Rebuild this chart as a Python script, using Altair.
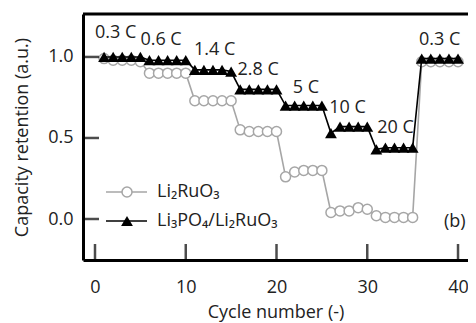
import altair as alt
import pandas as pd

cycles = list(range(1, 41))
li2ruo3 = [0.99, 0.98, 0.98, 0.98, 0.97,
           0.90, 0.90, 0.90, 0.90, 0.90,
           0.73, 0.73, 0.73, 0.73, 0.73,
           0.55, 0.54, 0.54, 0.54, 0.54,
           0.26, 0.29, 0.30, 0.30, 0.30,
           0.04, 0.05, 0.05, 0.07, 0.06,
           0.02, 0.01, 0.01, 0.01, 0.01,
           0.97, 0.97, 0.97, 0.97, 0.97]
li3po4 = [1.00, 1.00, 1.00, 1.00, 1.00,
          0.98, 0.98, 0.98, 0.98, 0.98,
          0.92, 0.92, 0.92, 0.92, 0.91,
          0.80, 0.80, 0.80, 0.80, 0.80,
          0.70, 0.70, 0.70, 0.70, 0.70,
          0.53, 0.57, 0.57, 0.57, 0.57,
          0.43, 0.44, 0.44, 0.44, 0.44,
          0.99, 0.99, 0.99, 0.99, 0.99]

rate_labels = ["0.3 C", "0.6 C", "1.4 C", "2.8 C", "5 C", "10 C", "20 C", "0.3 C"]
rate_x = [0.0, 5.0, 10.9, 15.7, 21.8, 25.8, 31.1, 35.7]
rate_y = [1.15, 1.105, 1.04, 0.92, 0.81, 0.685, 0.56, 1.105]

x_ticks = [0, 10, 20, 30, 40]
y_ticks = [0.0, 0.5, 1.0]

FONT = "Open Sans"
FS = 18
W, H = 385, 246

df = pd.DataFrame({"cycle": cycles, "a": li2ruo3, "b": li3po4})
lab = pd.DataFrame({"t": rate_labels, "x": rate_x, "y": rate_y})
one = pd.DataFrame({"k": [0]})

xs = alt.Scale(domain=[-1.322, 41.1], nice=False, zero=False)
ys = alt.Scale(domain=[-0.253, 1.265], nice=False, zero=False)

base = alt.Chart(df)

gray_line = base.mark_line(color="#a6a6a6", strokeWidth=1.6).encode(
    x=alt.X("cycle:Q", scale=xs,
            axis=alt.Axis(values=x_ticks, title="Cycle number (-)", grid=False, ticks=False,
                          domainColor="black", domainWidth=3, labelFontSize=FS,
                          labelPadding=18, titleFontSize=FS, titlePadding=7,
                          labelFont=FONT, titleFont=FONT, titleFontWeight="normal",
                          labelColor="#222", titleColor="#222")),
    y=alt.Y("a:Q", scale=ys,
            axis=alt.Axis(values=y_ticks, format=".1f", title="Capacity retention (a.u.)",
                          grid=False, ticks=False, domainColor="black", domainWidth=3,
                          labelFontSize=FS, labelPadding=10, titleFontSize=FS,
                          titlePadding=16, labelFont=FONT, titleFont=FONT,
                          titleFontWeight="normal", labelColor="#222", titleColor="#222")),
)
circles = base.mark_point(shape="circle", size=100, filled=True, fill="white",
                          stroke="#a6a6a6", strokeWidth=1.5, opacity=1).encode(
    x=alt.X("cycle:Q", scale=xs), y=alt.Y("a:Q", scale=ys))
black_line = base.mark_line(color="black", strokeWidth=1.6).encode(
    x=alt.X("cycle:Q", scale=xs), y=alt.Y("b:Q", scale=ys))
tris = base.mark_point(shape="triangle-up", size=140, filled=True, color="black", opacity=1).encode(
    x=alt.X("cycle:Q", scale=xs), y=alt.Y("b:Q", scale=ys))

labels = alt.Chart(lab).mark_text(font=FONT, fontSize=FS, align="left", baseline="middle",
                                  color="#222").encode(
    x=alt.X("x:Q", scale=xs), y=alt.Y("y:Q", scale=ys), text="t:N")

xt = alt.Chart(pd.DataFrame({"v": x_ticks})).mark_tick(
    orient="vertical", size=16, thickness=2.5, color="black").encode(
    x=alt.X("v:Q", scale=xs), y=alt.value(H - 8))
yt = alt.Chart(pd.DataFrame({"v": y_ticks})).mark_tick(
    orient="horizontal", size=16, thickness=2.5, color="black").encode(
    y=alt.Y("v:Q", scale=ys), x=alt.value(8))

top = alt.Chart(one).mark_rule(color="black", strokeWidth=3).encode(
    x=alt.value(0), x2=alt.value(W), y=alt.value(0))

b_txt = alt.Chart(one).mark_text(font=FONT, fontSize=FS, align="left", baseline="middle",
                                 color="#222", text="(b)").encode(
    x=alt.value(361), y=alt.value(208))

# legend
r1, r2 = 178, 207
leg1_line = alt.Chart(one).mark_rule(color="#a6a6a6", strokeWidth=1.6).encode(
    x=alt.value(23), x2=alt.value(64), y=alt.value(r1))
leg1_pt = alt.Chart(one).mark_point(shape="circle", size=100, filled=True, fill="white",
                                    stroke="#a6a6a6", strokeWidth=1.5, opacity=1).encode(
    x=alt.value(44), y=alt.value(r1))
leg1_txt = alt.Chart(one).mark_text(font=FONT, fontSize=FS, align="left", baseline="middle",
                                    color="#222", text="Li₂RuO₃").encode(
    x=alt.value(74), y=alt.value(r1))
leg2_line = alt.Chart(one).mark_rule(color="black", strokeWidth=1.6).encode(
    x=alt.value(23), x2=alt.value(64), y=alt.value(r2))
leg2_pt = alt.Chart(one).mark_point(shape="triangle-up", size=140, filled=True,
                                    color="black", opacity=1).encode(
    x=alt.value(44), y=alt.value(r2))
leg2_txt = alt.Chart(one).mark_text(font=FONT, fontSize=FS, align="left", baseline="middle",
                                    color="#222", text="Li₃PO₄/Li₂RuO₃").encode(
    x=alt.value(74), y=alt.value(r2))

chart = alt.layer(
    gray_line, circles, black_line, tris, labels, xt, yt, top, b_txt,
    leg1_line, leg1_pt, leg1_txt, leg2_line, leg2_pt, leg2_txt
).properties(
    width=W, height=H, autosize="none",
    padding={"left": 75, "top": 6, "right": 0, "bottom": 63},
    background="white"
).configure_view(stroke=None)

chart.save("out.html", embed_options={"renderer": "svg", "actions": False})
